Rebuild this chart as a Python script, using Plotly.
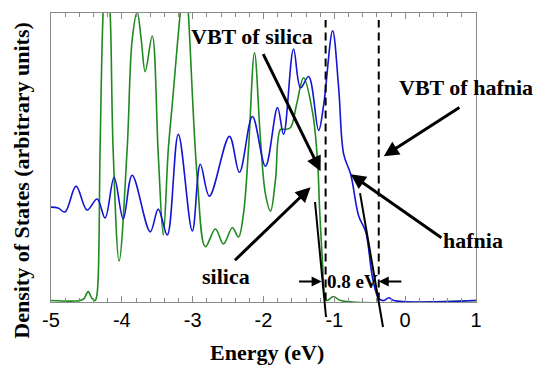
import plotly.graph_objects as go

# ---- data ----
blue_E = [-5.0, -4.901, -4.802, -4.646, -4.491, -4.349, -4.236, -4.109, -3.981, -3.854,
          -3.599, -3.486, -3.359, -3.203, -3.005, -2.892, -2.764, -2.481, -2.340, -2.156,
          -1.972, -1.802, -1.717, -1.576, -1.477, -1.363, -1.222, -1.151, -1.024, -0.939,
          -0.868, -0.769, -0.656, -0.557, -0.458, -0.373, -0.302, -0.231, -0.161, 1.0]
blue_y = [32.5, 32.2, 30.8, 39.8, 31.5, 35.3, 28.7, 42.9, 28.4, 43.6,
          23.9, 31.8, 22.8, 57.8, 24.2, 47.4, 36.3, 57.1, 44.6, 64.0,
          46.7, 67.1, 57.8, 87.5, 74.0, 77.9, 59.2, 68.0, 93.8, 74.0,
          50.9, 43.9, 29.4, 23.9, 7.6, 0.7, 0.0, 1.0, 0.0, 0.0]

green_E = [-5.0, -4.590, -4.533, -4.476, -4.420, -4.377, -4.349, -4.307, -4.264, -4.215,
           -4.165, -4.123, -4.038, -3.925, -3.854, -3.783, -3.726, -3.670, -3.571, -3.486,
           -3.415, -3.344, -3.288, -3.175, -3.104, -3.061, -2.934, -2.821, -2.679, -2.566,
           -2.439, -2.354, -2.283, -2.212, -2.127, -2.043, -1.972, -1.901, -1.830, -1.760,
           -1.689, -1.618, -1.533, -1.434, -1.307, -1.236, -1.208, -1.165, -1.137, -1.109,
           -1.010, -0.911, 1.0]
green_y = [0.0, 0.0, 0.7, 3.1, 0.7, 0.0, 2.4, 52.6, 100.0, 118.0,
           100.0, 52.6, 13.8, 52.6, 90.7, 100.3, 90.7, 79.6, 92.0, 50.9,
           22.8, 52.6, 68.2, 100.0, 115.0, 100.0, 42.2, 18.7, 24.9, 19.7,
           25.3, 22.1, 30.1, 52.6, 86.2, 56.1, 37.0, 31.1, 42.2, 59.5,
           59.5, 60.2, 68.2, 77.5, 65.4, 48.1, 31.8, 12.1, 1.4, 0.0,
           1.4, 0.0, 0.0]

tick_vals = [-5, -4, -3, -2, -1, 0, 1]
tick_text = ["-5", "-4", "-3", "-2", "-1", "0", "1"]

vbt_silica = -1.123
vbt_hafnia = -0.373

fig = go.Figure()
fig.add_trace(go.Scatter(x=green_E, y=green_y, mode="lines",
                         line=dict(color="#1f8a1f", width=1.6, shape="spline", smoothing=1.0),
                         showlegend=False, hoverinfo="skip"))
fig.add_trace(go.Scatter(x=blue_E, y=blue_y, mode="lines",
                         line=dict(color="#1414d2", width=1.6, shape="spline", smoothing=1.0),
                         showlegend=False, hoverinfo="skip"))

# dashed VBT lines
for xv in (vbt_silica, vbt_hafnia):
    fig.add_shape(type="line", xref="x", yref="y", x0=xv, x1=xv, y0=0, y1=97.6,
                  line=dict(color="black", width=2, dash="8px,5px"))

# tangent lines (paper coords, extend below the axis)
fig.add_shape(type="line", xref="paper", yref="paper", x0=0.6212, y0=0.346, x1=0.6471, y1=-0.052,
              line=dict(color="black", width=2))
fig.add_shape(type="line", xref="paper", yref="paper", x0=0.7271, y0=0.377, x1=0.7812, y1=-0.0865,
              line=dict(color="black", width=2))

serif = "Liberation Serif"
def label(text, x, y, size=22):
    fig.add_annotation(x=x, y=y, xref="x", yref="y", text="<b>%s</b>" % text, showarrow=False,
                       font=dict(family=serif, size=size, color="black"),
                       xanchor="center", yanchor="middle")

def arrow(hx, hy, tx, ty, w=3):
    fig.add_annotation(x=hx, y=hy, ax=tx, ay=ty, xref="x", yref="y", axref="x", ayref="y",
                       text="", showarrow=True, arrowhead=2, arrowsize=1.0, arrowwidth=w,
                       arrowcolor="black")

label("VBT of silica", -2.156, 91.7)
label("VBT of hafnia", 0.858, 74.0)
label("silica", -2.524, 8.3)
label("hafnia", 0.957, 20.8)
label("0.8 eV", -0.741, 6.6, size=19)

arrow(-1.194, 45.0, -2.014, 86.2)
arrow(-1.335, 39.4, -2.425, 13.5)
arrow(-0.302, 50.2, 0.787, 67.5)
arrow(-0.769, 43.9, 0.533, 21.5)
arrow(-1.179, 6.6, -1.519, 6.6, w=2)
arrow(-0.373, 6.6, -0.033, 6.6, w=2)

# axis titles
fig.add_annotation(x=0.508, y=-0.176, xref="paper", yref="paper", text="<b>Energy (eV)</b>",
                   showarrow=False, font=dict(family=serif, size=22, color="black"),
                   xanchor="center", yanchor="middle")
fig.add_annotation(x=-0.068, y=0.42, xref="paper", yref="paper",
                   text="<b>Density of States (arbitrary units)</b>", textangle=-90,
                   showarrow=False, font=dict(family=serif, size=22, color="black"),
                   xanchor="center", yanchor="middle")

fig.update_layout(
    width=535, height=366,
    margin=dict(l=51, r=59, t=13, b=64),
    paper_bgcolor="white", plot_bgcolor="white",
    xaxis=dict(range=[-5, 1], tickvals=tick_vals, ticktext=tick_text,
               showgrid=False, zeroline=False, showline=True, linecolor="#8a8a8a", linewidth=1,
               mirror="ticks", ticks="inside", ticklen=6, tickcolor="#8a8a8a",
               tickfont=dict(family="Liberation Sans", size=20, color="black"),
               minor=dict(dtick=0.2, ticks="inside", ticklen=4, tickcolor="#8a8a8a")),
    yaxis=dict(range=[-0.5, 100], showgrid=False, zeroline=False, showline=True,
               linecolor="#8a8a8a", linewidth=1, mirror=True, showticklabels=False, ticks=""),
)

fig.write_html("out.html", config={"displayModeBar": False},
               post_script="document.body.style.margin='0';document.body.style.overflow='hidden';")
